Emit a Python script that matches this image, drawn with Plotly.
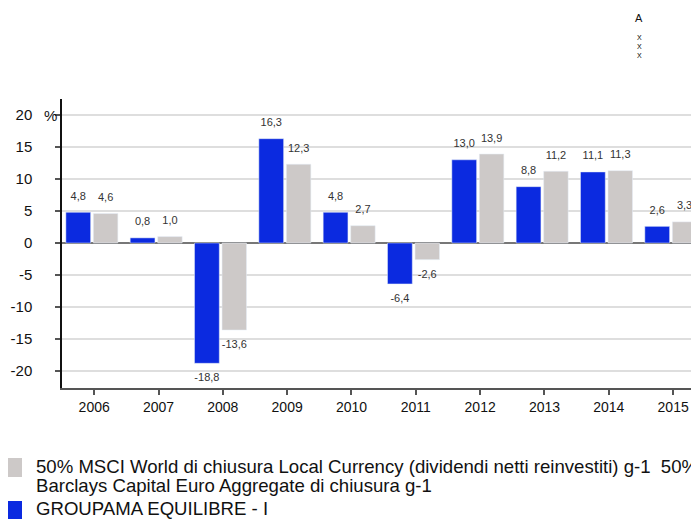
import plotly.graph_objects as go

years = ["2006", "2007", "2008", "2009", "2010", "2011", "2012", "2013", "2014", "2015"]
fund_name = "GROUPAMA EQUILIBRE - I"
fund_values = [4.8, 0.8, -18.8, 16.3, 4.8, -6.4, 13.0, 8.8, 11.1, 2.6]
bench_name_lines = [
    "50% MSCI World di chiusura Local Currency (dividendi netti reinvestiti) g-1\u00a0\u00a050%",
    "Barclays Capital Euro Aggregate di chiusura g-1",
]
bench_values = [4.6, 1.0, -13.6, 12.3, 2.7, -2.6, 13.9, 11.2, 11.3, 3.3]
y_ticks = [-20, -15, -10, -5, 0, 5, 10, 15, 20]

BLUE = "#0b2ae0"
GREY = "#cdc9c8"
OFF = 8  # page body margin
W, H = 699 - OFF, 519 - OFF
ML, MR, MT, MB = 62 - OFF, 0, 99 - OFF, 519 - 388
PW = W - ML - MR
PH = H - MT - MB
STEP = 64.33  # px per category

BW_F, OFS_F = 0.385, -0.44   # fund bar width / offset (category units)
BW_B, OFS_B = 0.38, -0.012   # benchmark bar width / offset


def py(ypx):
    return (H - MB - (ypx - OFF)) / PH


def px(xpx):
    return (xpx - OFF - ML) / PW


idx = list(range(len(years)))

fig = go.Figure()
fig.add_trace(go.Bar(
    x=idx, y=fund_values, name=fund_name, marker_color=BLUE,
    width=BW_F, offset=OFS_F, showlegend=False, hoverinfo="x+y",
))
fig.add_trace(go.Bar(
    x=idx, y=bench_values, name=" ".join(bench_name_lines), marker_color=GREY,
    width=BW_B, offset=OFS_B, showlegend=False, hoverinfo="x+y",
))

# value labels
for vals, bw, ofs in [(fund_values, BW_F, OFS_F), (bench_values, BW_B, OFS_B)]:
    xs = [i + ofs + bw / 2 for i in idx]
    fig.add_trace(go.Scatter(
        x=xs, y=vals, mode="markers+text",
        marker=dict(size=14, opacity=0),
        text=[f"{v:.1f}".replace(".", ",") for v in vals],
        textposition=["top center" if v >= 0 else "bottom center" for v in vals],
        textfont=dict(size=11, color="#333333"),
        cliponaxis=False, showlegend=False, hoverinfo="skip",
    ))

shapes = [
    dict(type="rect", xref="paper", yref="paper", x0=px(3), x1=px(22), y0=py(477), y1=py(458),
         fillcolor=GREY, line=dict(width=0)),
    dict(type="rect", xref="paper", yref="paper", x0=px(3), x1=px(22), y0=py(520), y1=py(501),
         fillcolor=BLUE, line=dict(width=0)),
]

LF = 18.6
legend_text = dict(xref="paper", yref="paper", x=px(35), xanchor="left", yanchor="middle",
                   showarrow=False, borderpad=0, font=dict(size=LF, color="#111111"))
annotations = [
    dict(text=bench_name_lines[0], y=py(466.5), **legend_text),
    dict(text=bench_name_lines[1], y=py(485), **legend_text),
    dict(text=fund_name, y=py(508.5), **legend_text),
    dict(text="%", xref="paper", yref="y", x=px(50), y=20, xanchor="center", yanchor="middle",
         showarrow=False, font=dict(size=15, color="#111111")),
    dict(text="A", xref="paper", yref="paper", x=px(639), y=py(18), xanchor="center", yanchor="middle",
         showarrow=False, font=dict(size=11, color="#111111")),
    dict(text="X<br>X<br>X", xref="paper", yref="paper", x=px(639), y=py(46), xanchor="center",
         yanchor="middle", showarrow=False, font=dict(size=7, color="#000000")),
]

fig.update_layout(
    width=W, height=H,
    margin=dict(l=ML, r=MR, t=MT, b=MB, autoexpand=False),
    paper_bgcolor="white", plot_bgcolor="white",
    barmode="overlay",
    font=dict(family="Liberation Sans, Arial, sans-serif", color="#111111"),
    shapes=shapes, annotations=annotations,
    xaxis=dict(
        range=[-0.5, -0.5 + PW / STEP], tickvals=idx, ticktext=years,
        showline=True, linecolor="#555555", linewidth=1.5,
        ticks="outside", ticklen=5, tickcolor="#555555", tickwidth=1.5,
        tickfont=dict(size=14, color="#111111"), showgrid=False, zeroline=False, fixedrange=True,
    ),
    yaxis=dict(
        range=[-22.66, 22.5], tickvals=y_ticks, ticktext=[str(v) for v in y_ticks],
        showline=True, linecolor="#111111", linewidth=1.5,
        ticks="outside", ticklen=5, tickcolor="#555555", tickwidth=1.5,
        ticklabelstandoff=20,
        tickfont=dict(size=15, color="#111111"),
        showgrid=True, gridcolor="#dedede", gridwidth=1.5,
        zeroline=True, zerolinecolor="#777777", zerolinewidth=1.5,
    ),
)

fig.write_html("out.html")
